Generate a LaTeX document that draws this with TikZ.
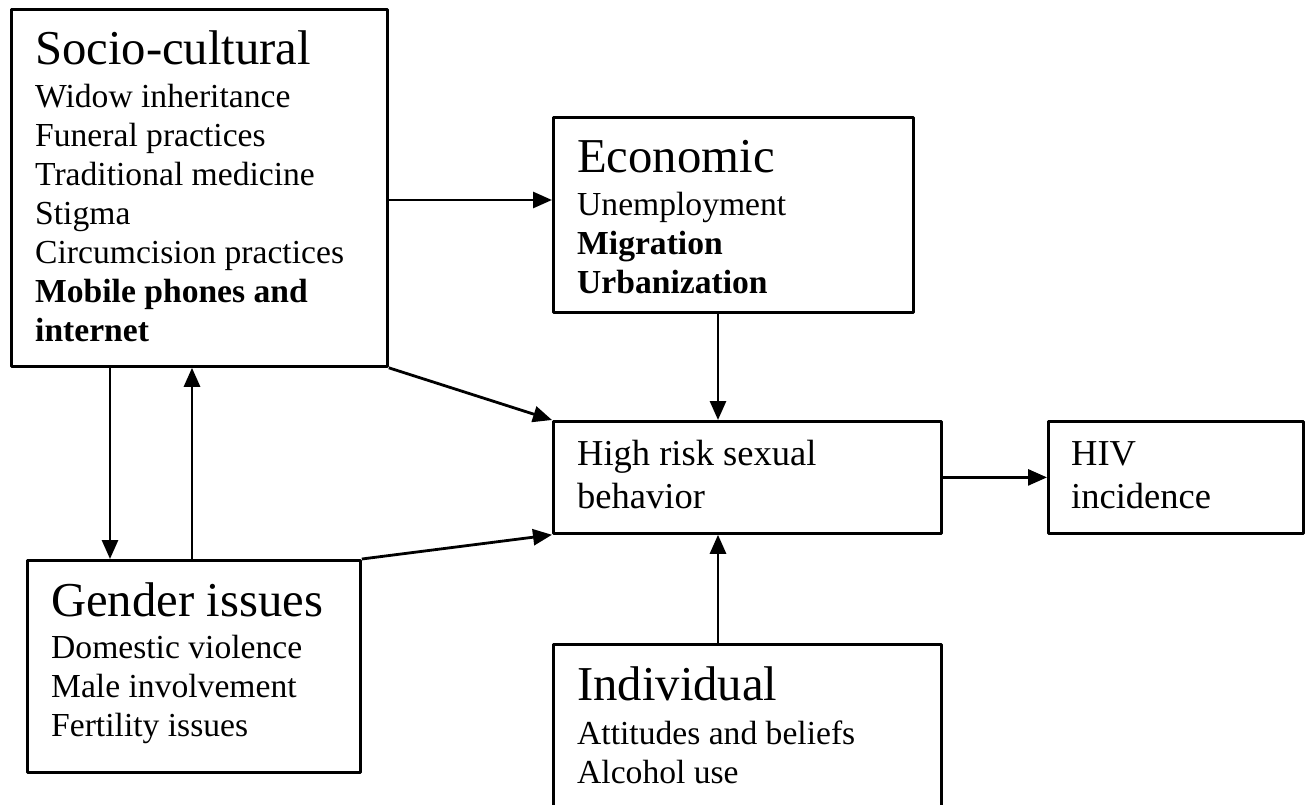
\documentclass[tikz,border=0pt]{standalone}
\usepackage{fontspec}
\setmainfont{Liberation Serif}
\usetikzlibrary{arrows.meta}
\begin{document}
\begin{tikzpicture}[x=1pt,y=-1pt,line join=round,
    box/.style={draw,line width=2.8pt,anchor=north west,inner sep=0pt},
    ttl/.style={anchor=base west,inner sep=0pt,font=\fontsize{48.7}{56}\selectfont},
    lst/.style={anchor=base west,inner sep=0pt,align=left,font=\fontsize{33.6}{39}\selectfont},
    big/.style={lst,font=\fontsize{36.5}{43}\selectfont},
    arr/.style={line width=2.8pt,-{Triangle[length=19pt,width=16pt]}}]
  \useasboundingbox (0,0) rectangle (1306,805);
  \clip (0,0) rectangle (1306,805);
  \node[box,minimum width=376pt,minimum height=357pt] (soc) at (10,8) {};
  \node[box,minimum width=360pt,minimum height=195pt] (eco) at (552,116) {};
  \node[box,minimum width=388pt,minimum height=112pt] (hrsb) at (552,420) {};
  \node[box,minimum width=255pt,minimum height=112pt] (hiv) at (1047,420) {};
  \node[box,minimum width=333pt,minimum height=212pt] (gen) at (26,559) {};
  \node[box,minimum width=388pt,minimum height=220pt] (ind) at (552,643) {};
  \node[ttl] (soct) at ([shift={(25,57)}]soc.north west) {Socio-cultural};
  \node[lst] (soci) at ([shift={(0,276)}]soct.base west) {Widow inheritance\\Funeral practices\\Traditional medicine\\Stigma\\Circumcision practices\\\textbf{Mobile phones and}\\\textbf{internet}};
  \node[ttl] (ecot) at ([shift={(25,57)}]eco.north west) {Economic};
  \node[lst] (ecoi) at ([shift={(0,120)}]ecot.base west) {Unemployment\\\textbf{Migration}\\\textbf{Urbanization}};
  \node[big] (hrsbt) at ([shift={(25,88)}]hrsb.north west) {High risk sexual\\behavior};
  \node[big] (hivt) at ([shift={(24,88)}]hiv.north west) {HIV\\incidence};
  \node[ttl] (gent) at ([shift={(25,57)}]gen.north west) {Gender issues};
  \node[lst] (geni) at ([shift={(0,120)}]gent.base west) {Domestic violence\\Male involvement\\Fertility issues};
  \node[ttl] (indt) at ([shift={(25,57)}]ind.north west) {Individual};
  \node[lst] (indi) at ([shift={(0,83)}]indt.base west) {Attitudes and beliefs\\Alcohol use};
  \draw[arr] (soc.east |- 0,200) -- (eco.west |- 0,200);
  \draw[arr] (soc.south east) -- (hrsb.north west);
  \draw[arr] (gen.north east) -- (hrsb.south west);
  \draw[arr] (soc.south -| 110,0) -- (gen.north -| 110,0);
  \draw[arr] (gen.north -| 192,0) -- (soc.south -| 192,0);
  \draw[arr] (eco.south -| 718,0) -- (hrsb.north -| 718,0);
  \draw[arr] (ind.north -| 718,0) -- (hrsb.south -| 718,0);
  \draw[arr] (hrsb.east) -- (hiv.west |- hrsb.east);
\end{tikzpicture}
\end{document}
